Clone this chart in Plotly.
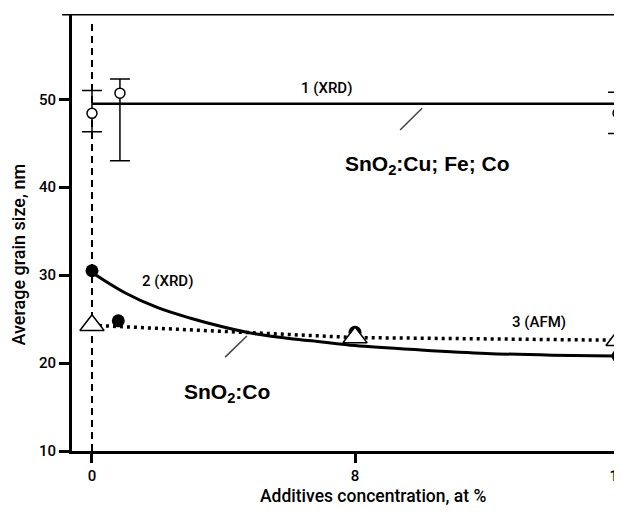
import plotly.graph_objects as go

# ---------------- data ----------------
# Curve 1 (XRD): SnO2:Cu; Fe; Co, open circles with error bars
xrd1_x = [0, 0.85, 16]
xrd1_y = [48.4, 50.7, 48.4]
xrd1_err_plus = [2.6, 1.6, 2.4]
xrd1_err_minus = [2.1, 7.7, 2.3]
fit1_x = [0, 16]
fit1_y = [49.5, 49.5]

# Curve 2 (XRD): SnO2:Co, filled circles + fitted solid curve
xrd2_x = [0, 0.8, 8, 16]
xrd2_y = [30.5, 24.8, 23.5, 20.8]
fit2_x = [0, 1, 2, 3, 4, 5, 6, 7, 8, 10, 12, 14, 16]
fit2_y = [30.3, 28.0, 26.3, 25.1, 24.1, 23.3, 22.8, 22.4, 22.0, 21.5, 21.1, 20.9, 20.8]

# Curve 3 (AFM): open triangles + dotted line
afm_x = [0, 8, 16]
afm_y = [24.3, 22.9, 22.6]

# leader lines (from label towards curve)
leader1_x = [10.04, 9.37]
leader1_y = [48.98, 46.5]
leader2_x = [4.71, 4.05]
leader2_y = [23.07, 20.68]

y_ticks = [10, 20, 30, 40, 50]
x_ticks = [0, 8, 16]

FONT = "Roboto, Liberation Sans, sans-serif"
LFONT = "Liberation Sans, Arial, sans-serif"

fig = go.Figure()

# vertical dashed line at x = 0
fig.add_trace(go.Scatter(x=[0, 0], y=[10, 58.7], mode="lines",
                         line=dict(color="black", width=2, dash="7px,5px"),
                         showlegend=False, hoverinfo="skip"))

# curve 1 fit line
fig.add_trace(go.Scatter(x=fit1_x, y=fit1_y, mode="lines",
                         line=dict(color="black", width=2.5), showlegend=False))
# curve 1 points
fig.add_trace(go.Scatter(x=xrd1_x, y=xrd1_y, mode="markers",
                         marker=dict(symbol="circle", size=10, color="white",
                                     line=dict(color="black", width=1.5)),
                         error_y=dict(type="data", array=xrd1_err_plus, arrayminus=xrd1_err_minus,
                                      color="black", thickness=1.5, width=10),
                         showlegend=False))

# leader lines
for lx, ly in [(leader1_x, leader1_y), (leader2_x, leader2_y)]:
    fig.add_trace(go.Scatter(x=lx, y=ly, mode="lines",
                             line=dict(color="#444", width=1.5), showlegend=False, hoverinfo="skip"))

# curve 3 dotted line
fig.add_trace(go.Scatter(x=afm_x, y=afm_y, mode="lines",
                         line=dict(color="black", width=3.5, dash="3px,4px"), showlegend=False))

# curve 2 fitted solid line
fig.add_trace(go.Scatter(x=fit2_x, y=fit2_y, mode="lines",
                         line=dict(color="black", width=3, shape="spline"), showlegend=False))
# curve 2 points
fig.add_trace(go.Scatter(x=xrd2_x, y=xrd2_y, mode="markers",
                         marker=dict(symbol="circle", size=13, color="black"), showlegend=False))

# curve 3 triangles
fig.add_trace(go.Scatter(x=afm_x, y=afm_y, mode="markers",
                         marker=dict(symbol="triangle-up", size=21, color="white",
                                     line=dict(color="black", width=1.5)),
                         showlegend=False))

# top frame line (with stub on the left like a tick)
fig.add_shape(type="line", xref="paper", yref="y", x0=-0.018, x1=1, y0=59.7, y1=59.7,
              line=dict(color="black", width=3))

annotations = [
    dict(x=7.12, y=51.25, text="1 (XRD)", font=dict(family=FONT, size=15, color="black", weight=500)),
    dict(x=10.2, y=42.5, text="SnO<sub>2</sub>:Cu; Fe; Co",
         font=dict(family=LFONT, size=21, color="black", weight="bold")),
    dict(x=2.31, y=29.3, text="2 (XRD)", font=dict(family=FONT, size=15, color="black", weight=500)),
    dict(x=13.6, y=24.66, text="3 (AFM)", font=dict(family=FONT, size=15, color="black", weight=500)),
    dict(x=4.1, y=16.6, text="SnO<sub>2</sub>:Co",
         font=dict(family=LFONT, size=21, color="black", weight="bold")),
    dict(xref="paper", yref="paper", x=0.547, y=-0.102, text="Additives concentration, at %",
         font=dict(family=FONT, size=17.5, color="black", weight=500)),
    dict(xref="paper", yref="paper", x=-0.098, y=0.45, text="Average grain size, nm", textangle=-90,
         font=dict(family=FONT, size=18, color="black", weight=500)),
]
for a in annotations:
    a.setdefault("xref", "x")
    a.setdefault("yref", "y")
    a["showarrow"] = False
    a["xanchor"] = "center"
    a["yanchor"] = "middle"
    fig.add_annotation(**a)

# page has an 8px body margin, so the figure is 8px smaller and margins shifted
fig.update_layout(
    width=614, height=505,
    margin=dict(l=64, r=0, t=6, b=62, autoexpand=False),
    paper_bgcolor="white", plot_bgcolor="white",
    showlegend=False,
    xaxis=dict(range=[-0.608, 16.12], tickvals=x_ticks, ticktext=[str(v) for v in x_ticks],
               automargin=False, ticklabeloverflow="allow",
               showgrid=False, zeroline=False, showline=True, linecolor="black", linewidth=3,
               ticks="outside", ticklen=9, tickwidth=2.5, tickcolor="black",
               tickfont=dict(family=FONT, size=15, color="black", weight=500)),
    yaxis=dict(range=[10, 59.7], tickvals=y_ticks, ticktext=[str(v) for v in y_ticks],
               automargin=False,
               showgrid=False, zeroline=False, showline=True, linecolor="black", linewidth=3,
               ticks="outside", ticklen=10, tickwidth=2.5, tickcolor="black",
               tickfont=dict(family=FONT, size=15, color="black", weight=500)),
)

fig.write_html("out.html")
